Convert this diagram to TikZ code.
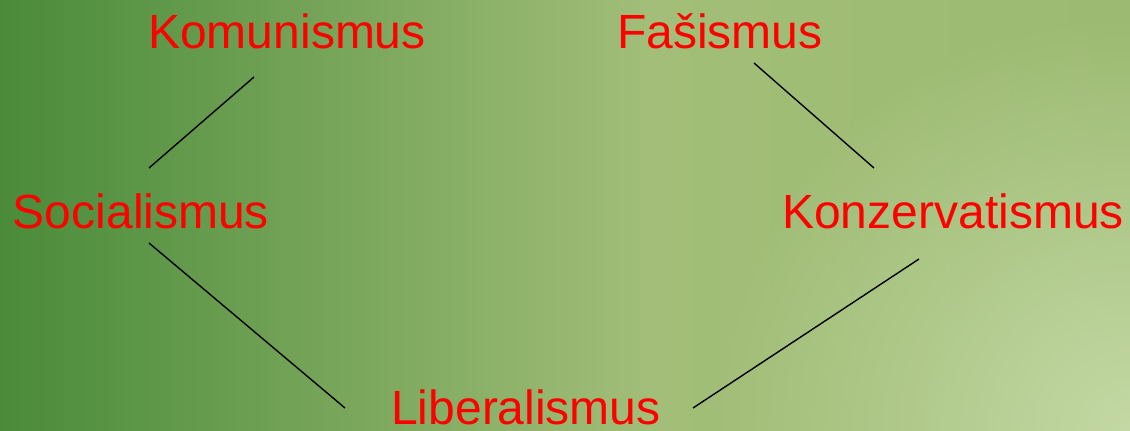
\documentclass[tikz,border=0pt]{standalone}
\usepackage{fontspec}
\setmainfont{Liberation Sans}
\usetikzlibrary{fadings}
\definecolor{gLeft}{HTML}{4A8B3A}
\definecolor{gMid}{HTML}{A2BE78}
\definecolor{gRight}{HTML}{9CBA71}
\definecolor{gLight}{HTML}{C4D9A5}
\tikzfading[name=softspot, inner color=transparent!0, outer color=transparent!100]
\tikzset{
  term/.style={text=red, font=\fontsize{48}{48}\selectfont, anchor=base, inner sep=0pt},
  link/.style={draw=black, line width=1.4pt}
}
\begin{document}
\begin{tikzpicture}[x=1pt,y=-1pt]
\useasboundingbox (0,0) rectangle (1130,431);
\begin{scope}
\clip (0,0) rectangle (1130,431);
\shade[left color=gLeft, right color=gMid] (0,0) rectangle (650,431);
\shade[left color=gMid, right color=gRight] (650,0) rectangle (1130,431);
\fill[gLight, path fading=softspot] (1130,431) circle (420);
\end{scope}
\node[term] (kom) at (287,48) {Komunismus};
\node[term] (fas) at (720,48) {Fašismus};
\node[term] (soc) at (141,228) {Socialismus};
\node[term] (kon) at (953,228) {Konzervatismus};
\node[term] (lib) at (526,424) {Liberalismus};
\draw[link] ([shift={(-33,29)}]kom.base) -- ([shift={(8,-60)}]soc.base);
\draw[link] ([shift={(8,15)}]soc.base) -- ([shift={(-181,-16)}]lib.base);
\draw[link] ([shift={(167,-16)}]lib.base) -- ([shift={(-34,31)}]kon.base);
\draw[link] ([shift={(34,15)}]fas.base) -- ([shift={(-79,-60)}]kon.base);
\end{tikzpicture}
\end{document}
